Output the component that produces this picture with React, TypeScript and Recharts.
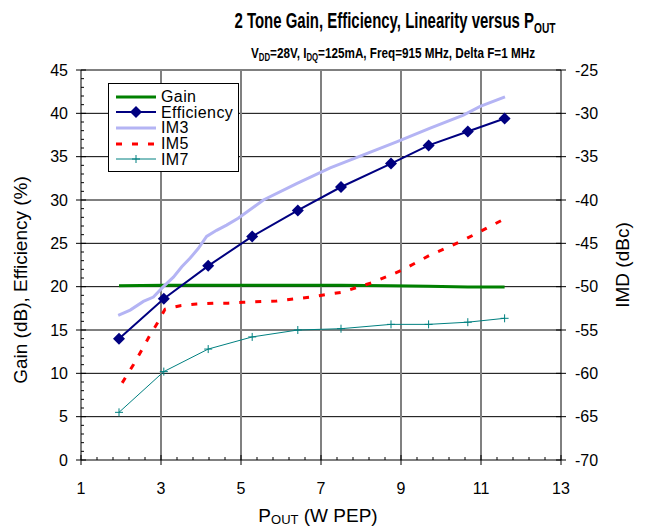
import React from 'react';
import { LineChart, Line, XAxis, YAxis, ReferenceLine } from 'recharts';

// P_OUT (W PEP) of the measured points (gain, efficiency, IM7)
const pout = [1.95, 3.07, 4.18, 5.28, 6.42, 7.5, 8.75, 9.69, 10.67, 11.59];
const gain = [20.1, 20.15, 20.15, 20.15, 20.15, 20.15, 20.1, 20.05, 19.95, 19.95];
const efficiency = [14.0, 18.6, 22.4, 25.8, 28.8, 31.5, 34.2, 36.3, 37.9, 39.4];
const im7 = [-64.5, -59.8, -57.2, -55.8, -55.0, -54.85, -54.35, -54.35, -54.1, -53.65];

// IM3 / IM5 are denser sweeps
const im3Pout = [1.93, 2.23, 2.56, 2.81, 3.06, 3.31, 3.52, 3.73, 3.93, 4.14, 4.39, 4.64, 4.93, 5.56, 6.39, 7.23, 8.06, 8.89, 9.73, 10.56, 10.98, 11.6];
const im3 = [-53.3, -52.7, -51.7, -51.2, -50.0, -48.9, -47.7, -46.7, -45.6, -44.2, -43.5, -42.9, -42.1, -40.0, -38.1, -36.3, -34.8, -33.3, -31.7, -30.2, -29.2, -28.1];

const im5Pout = [2.03, 2.31, 2.52, 2.71, 2.91, 3.1, 3.48, 3.89, 4.31, 4.68, 5.05, 5.89, 6.73, 7.14, 7.52, 7.89, 8.27, 8.64, 9.02, 9.39, 9.73, 10.1, 10.48, 10.83, 11.18, 11.54];
const im5 = [-61.1, -59.0, -57.3, -55.7, -54.2, -52.6, -52.2, -52.0, -51.9, -51.9, -51.8, -51.65, -51.2, -50.9, -50.65, -50.1, -49.55, -48.85, -48.1, -47.2, -46.35, -45.6, -44.8, -44.0, -43.15, -42.3];

// axis ticks (minor ticks included, majors get labels)
const xTicks = [1, 1.4, 1.8, 2.2, 2.6, 3, 3.4, 3.8, 4.2, 4.6, 5, 5.4, 5.8, 6.2, 6.6, 7, 7.4, 7.8, 8.2, 8.6, 9, 9.4, 9.8, 10.2, 10.6, 11, 11.4, 11.8, 12.2, 12.6, 13];
const xGrid = [3, 5, 7, 9, 11];
const leftTicks = [0, 1, 2, 3, 4, 5, 6, 7, 8, 9, 10, 11, 12, 13, 14, 15, 16, 17, 18, 19, 20, 21, 22, 23, 24, 25, 26, 27, 28, 29, 30, 31, 32, 33, 34, 35, 36, 37, 38, 39, 40, 41, 42, 43, 44, 45];
const leftGrid = [5, 10, 15, 20, 25, 30, 35, 40, 45];
const rightTicks = [-70, -65, -60, -55, -50, -45, -40, -35, -30, -25];

const toPoints = (xs: number[], ys: number[]) => xs.map((x, i) => ({ x, y: ys[i] }));

const gainData = toPoints(pout, gain);
const effData = toPoints(pout, efficiency);
const im3Data = toPoints(im3Pout, im3);
const im5Data = toPoints(im5Pout, im5);
const im7Data = toPoints(pout, im7);

const SANS = 'Liberation Sans, Arial, sans-serif';

const C_GAIN = '#008000';
const C_EFF = '#000080';
const C_IM3 = '#b4b4f4';
const C_IM5 = '#ff0000';
const C_IM7 = '#008080';

// recharts defaults: tickSize 6 + tickMargin 2 between axis and tick anchor
const OFF = 8;

const isMajorX = (v: number) => Math.abs((v - 1) / 2 - Math.round((v - 1) / 2)) < 1e-6;

const LeftTick = (props: any) => {
  const { x, y, payload } = props;
  const edge = x + OFF;
  const major = payload.value % 5 === 0;
  return (
    <g>
      <line x1={major ? edge - 5 : edge} x2={edge + (major ? 5 : 3)} y1={y} y2={y} stroke="#000" strokeWidth={1} />
      {major && (
        <text x={edge - 13} y={y} textAnchor="end" dominantBaseline="central" fontFamily={SANS} fontSize={16} fill="#000">{payload.value}</text>
      )}
    </g>
  );
};

const RightTick = (props: any) => {
  const { x, y, payload } = props;
  const edge = x - OFF;
  return (
    <g>
      <line x1={edge - 5} x2={edge + 5} y1={y} y2={y} stroke="#000" strokeWidth={1} />
      <text x={edge + 14} y={y} textAnchor="start" dominantBaseline="central" fontFamily={SANS} fontSize={16} fill="#000">{payload.value}</text>
    </g>
  );
};

const BottomTick = (props: any) => {
  const { x, y, payload } = props;
  const edge = y - OFF;
  const major = isMajorX(payload.value);
  return (
    <g>
      <line x1={x} x2={x} y1={major ? edge + 5 : edge} y2={edge - (major ? 5 : 3)} stroke="#000" strokeWidth={1} />
      {major && (
        <text x={x} y={edge + 23} dy="0.71em" textAnchor="middle" fontFamily={SANS} fontSize={16} fill="#000">{Math.round(payload.value)}</text>
      )}
    </g>
  );
};

const Diamond = (props: any) => {
  const { cx, cy, index } = props;
  if (cx == null || cy == null) return null;
  return <path key={`d-${index}`} d={`M${cx},${cy - 6}L${cx + 6},${cy}L${cx},${cy + 6}L${cx - 6},${cy}Z`} fill={C_EFF} />;
};

const Plus = (props: any) => {
  const { cx, cy, index } = props;
  if (cx == null || cy == null) return null;
  return <path key={`p-${index}`} d={`M${cx - 4},${cy}H${cx + 4}M${cx},${cy - 4}V${cy + 4}`} stroke={C_IM7} strokeWidth={1} fill="none" />;
};

const legendRows = [
  { name: 'Gain', color: C_GAIN, width: 3, dash: undefined, marker: null },
  { name: 'Efficiency', color: C_EFF, width: 2, dash: undefined, marker: 'diamond' },
  { name: 'IM3', color: C_IM3, width: 3, dash: undefined, marker: null },
  { name: 'IM5', color: C_IM5, width: 3, dash: '6 10', marker: null },
  { name: 'IM7', color: C_IM7, width: 1, dash: undefined, marker: 'plus' },
];

const LegendBox = () => (
  <div style={{ position: 'absolute', left: 108, top: 83, width: 131, height: 89, border: '1px solid #000', background: '#fff', paddingTop: 5, boxSizing: 'border-box' }}>
    {legendRows.map(r => (
      <div key={r.name} style={{ display: 'flex', alignItems: 'center', height: 15.6 }}>
        <svg width={52} height={14} style={{ flex: 'none' }}>
          <line x1={7} x2={47} y1={7} y2={7} stroke={r.color} strokeWidth={r.width} strokeDasharray={r.dash} />
          {r.marker === 'diamond' && <path d="M27,1L33,7L27,13L21,7Z" fill={r.color} />}
          {r.marker === 'plus' && <path d="M23,7H31M27,3V11" stroke={r.color} strokeWidth={1} />}
        </svg>
        <span style={{ fontFamily: SANS, fontSize: 16, letterSpacing: 0.4, lineHeight: '15px', color: '#000' }}>{r.name}</span>
      </div>
    ))}
  </div>
);

// axis captions
const Captions = () => (
  <svg width={649} height={529} style={{ position: 'absolute', left: 0, top: 0, pointerEvents: 'none' }}>
    <text x={20} y={280} transform="rotate(-90 20 280)" textAnchor="middle" dominantBaseline="central" fontFamily={SANS} fontSize={19} fill="#000">
      Gain (dB), Efficiency (%)
    </text>
    <text x={622} y={265} transform="rotate(-90 622 265)" textAnchor="middle" dominantBaseline="central" fontFamily={SANS} fontSize={19} fill="#000">
      IMD (dBc)
    </text>
    <text x={318} y={515} textAnchor="middle" dominantBaseline="central" fontFamily={SANS} fontSize={19} fill="#000">
      P<tspan fontSize={13} dy={4}>OUT</tspan><tspan dy={-4}> (W PEP)</tspan>
    </text>
  </svg>
);

export default function App() {
  return (
    <div style={{ position: 'fixed', left: 0, top: 0, width: 649, height: 529, background: '#fff' }}>
      <LineChart width={649} height={529} margin={{ top: 70, right: 28, bottom: 29, left: 21 }}>
        <XAxis type="number" dataKey="x" domain={[1, 13]} ticks={xTicks} interval={0} height={40}
          stroke="#000" tick={<BottomTick />} tickLine={false} />
        <YAxis domain={[0, 45]} ticks={leftTicks} interval={0} width={60}
          stroke="#000" tick={<LeftTick />} tickLine={false} />
        <YAxis yAxisId="right" orientation="right" domain={[-70, -25]} ticks={rightTicks} interval={0} width={60}
          stroke="#000" tick={<RightTick />} tickLine={false} />

        {leftGrid.map(v => (
          <ReferenceLine key={`h${v}`} y={v} stroke="#000" strokeWidth={1} />
        ))}
        {xGrid.map(v => (
          <ReferenceLine key={`v${v}`} x={v} stroke="#808080" strokeWidth={2} />
        ))}

        <Line data={gainData} dataKey="y" name="Gain" stroke={C_GAIN} strokeWidth={3} dot={false} isAnimationActive={false} />
        <Line data={effData} dataKey="y" name="Efficiency" stroke={C_EFF} strokeWidth={2} dot={<Diamond />} isAnimationActive={false} />
        <Line yAxisId="right" data={im3Data} dataKey="y" name="IM3" stroke={C_IM3} strokeWidth={3} dot={false} isAnimationActive={false} />
        <Line yAxisId="right" data={im5Data} dataKey="y" name="IM5" stroke={C_IM5} strokeWidth={3} strokeDasharray="6 10" dot={false} isAnimationActive={false} />
        <Line yAxisId="right" data={im7Data} dataKey="y" name="IM7" stroke={C_IM7} strokeWidth={1} dot={<Plus />} isAnimationActive={false} />
      </LineChart>
      <Captions />
      <div style={{ position: 'absolute', left: 95, width: 600, top: 8, textAlign: 'center', fontFamily: SANS, fontWeight: 'bold', fontSize: 22, color: '#000', whiteSpace: 'nowrap', transform: 'scaleX(0.68)', transformOrigin: '300px 0' }}>
        2 Tone Gain, Efficiency, Linearity versus P<span style={{ fontSize: 15, position: 'relative', top: 5 }}>OUT</span>
      </div>
      <div style={{ position: 'absolute', left: 93, width: 600, top: 44, textAlign: 'center', fontFamily: SANS, fontWeight: 'bold', fontSize: 15, color: '#000', whiteSpace: 'nowrap', transform: 'scaleX(0.78)', transformOrigin: '300px 0' }}>
        V<span style={{ fontSize: 10, position: 'relative', top: 3 }}>DD</span>=28V, I<span style={{ fontSize: 10, position: 'relative', top: 3 }}>DQ</span>=125mA, Freq=915 MHz, Delta F=1 MHz
      </div>
      <LegendBox />
    </div>
  );
}
